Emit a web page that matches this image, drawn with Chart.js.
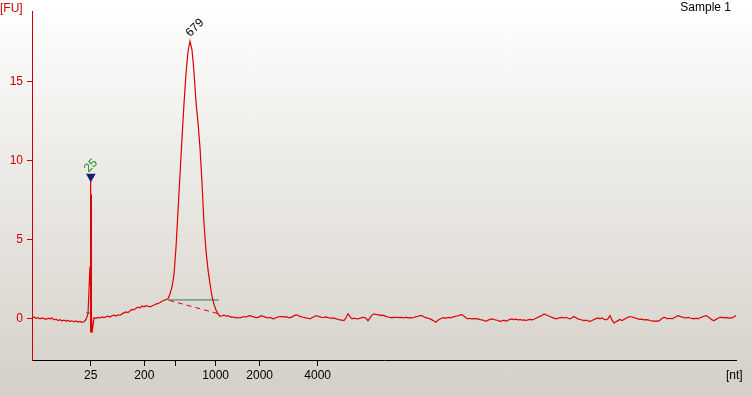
<!DOCTYPE html>
<html>
<head>
<meta charset="utf-8">
<script src="https://cdn.jsdelivr.net/npm/chart.js@4.4.1/dist/chart.umd.min.js"></script>
<style>
  html, body { margin: 0; padding: 0; }
  body { width: 752px; height: 396px; overflow: hidden;
         background: linear-gradient(to bottom, #ffffff 0%, #ebe9e5 45%, #d4d0c8 100%); }
  canvas { display: block; }
</style>
</head>
<body>
<canvas id="c" width="752" height="396" style="width:752px;height:396px"></canvas>
<script>
// ---- Data ----
// Migration time axis: samples every 0.2 s starting at 19.0 s
const sampleStart = 19.0;
const sampleStep = 0.2;
// Fluorescence [FU] per sample
const fuValues = [
  0.05, 0.10, 0.02, 0.06, -0.02, 0.04, 0.00, -0.05, 0.03, -0.02,
  0.04, -0.08, -0.03, -0.12, -0.07, -0.14, -0.10, -0.16, -0.12, -0.18,
  -0.14, -0.20, -0.15, -0.22, -0.18, -0.24, -0.20, -0.05,
  0.30, 3.30, -0.90,
  0.05, 0.02, 0.08, 0.04, 0.10, 0.06, 0.12, 0.15, 0.10, 0.18,
  0.22, 0.16, 0.24, 0.20, 0.30, 0.36, 0.42, 0.38, 0.50, 0.58,
  0.55, 0.66, 0.72, 0.68, 0.80, 0.75, 0.82, 0.78, 0.74, 0.80,
  0.86, 0.92, 0.96, 1.02, 1.10, 1.16, 1.20,
  1.25, 1.55, 2.0, 2.8, 4.5, 6.8, 9.1, 11.4, 13.6, 15.5,
  16.9, 17.55, 17.0, 15.6, 13.7, 12.4, 10.8, 8.6, 6.0, 4.3,
  3.1, 2.2, 1.4, 0.9, 0.55, 0.3, 0.15,
  0.18, 0.22, 0.15, 0.19, 0.12, 0.08, 0.10, 0.05, 0.07, 0.04,
  0.09, 0.13, 0.10, 0.16, 0.19, 0.14, 0.11, 0.06, 0.08, 0.14,
  0.19, 0.12, 0.08, 0.04, 0.07, 0.01, -0.02, 0.05, 0.10, 0.13,
  0.13, 0.09, 0.12, 0.08, 0.05, 0.11, 0.17, 0.25, 0.20, 0.14,
  0.10, 0.08, 0.04, 0.02, -0.02, 0.05, 0.12, 0.19, 0.15, 0.11,
  0.07, 0.08, 0.11, 0.06, 0.04, 0.02, 0.05, -0.02, -0.04, -0.08,
  -0.10, -0.13, 0.05, 0.30, 0.12, -0.02, 0.03, -0.01, -0.02, 0.02,
  0.06, 0.08, 0.02, -0.13, 0.05, 0.22, 0.30, 0.26, 0.25, 0.20,
  0.22, 0.19, 0.14, 0.10, 0.08, 0.05, 0.09, 0.07, 0.08, 0.06,
  0.08, 0.04, 0.09, 0.05, 0.06, 0.04, 0.07, 0.12, 0.15, 0.19,
  0.19, 0.10, 0.06, 0.02, -0.02, -0.08, -0.15, -0.23, -0.10, -0.02,
  0.04, 0.06, 0.02, 0.08, 0.05, 0.08, 0.12, 0.15, 0.18, 0.22,
  0.25, 0.14, 0.06, -0.02, 0.02, -0.03, 0.01, -0.02, -0.02, -0.06,
  -0.08, -0.12, -0.17, -0.10, -0.05, -0.02, -0.06, -0.09, -0.12, -0.17,
  -0.14, -0.10, -0.17, -0.11, -0.05, -0.02, -0.06, -0.04, -0.08, -0.06,
  -0.10, -0.08, -0.12, -0.08, -0.05, -0.08, -0.04, 0.02, 0.08, 0.14,
  0.20, 0.30, 0.24, 0.18, 0.13, 0.08, 0.03, -0.02, 0.02, 0.06,
  0.08, 0.04, 0.08, 0.02, -0.02, 0.05, 0.13, 0.06, -0.02, -0.06,
  -0.09, -0.13, -0.10, -0.15, -0.17, -0.12, -0.06, 0.00, 0.04, -0.02,
  0.04, -0.04, -0.08, -0.02, 0.19, -0.10, -0.27, -0.20, -0.13, -0.06,
  -0.13, -0.05, 0.02, 0.08, 0.13, 0.10, 0.06, 0.02, -0.02, -0.05,
  -0.04, -0.08, -0.06, -0.08, -0.12, -0.15, -0.17, -0.14, -0.17, -0.10,
  0.02, 0.08, 0.04, -0.02, 0.02, -0.02, 0.05, 0.12, 0.19, 0.14,
  0.10, 0.06, 0.04, 0.08, 0.04, 0.01, -0.02, 0.03, -0.02, 0.05,
  0.10, 0.15, 0.19, 0.12, 0.02, -0.08, -0.13, -0.05, 0.02, 0.08,
  0.08, 0.05, 0.07, 0.03, 0.05, 0.04, 0.12, 0.19
];
// Lower marker (25 nt) spike
const markerTime = 24.9;
const markerSpikeTop = 7.87;
const markerSpikeBottom = -0.86;
const markerFlagFU = 8.98;
// Peak integration baselines
const peakBaseTimes = [32.6, 37.7];
const peakBaseFU = [1.18, 1.18];
const dashedBaseTimes = [32.73, 37.63];
const dashedBaseFU = [1.15, 0.31];
const markerBaseTimes = [24.4, 25.0];
const markerBaseFU = [0.36, 0.36];
// Peak annotations
const peakLabelTexts = ['25', '679'];
const peakLabelTimes = [24.88, 34.8];
const peakLabelFU = [8.98, 17.55];
// Axes
const xTickTimes = [24.87, 30.23, 33.33, 37.37, 41.77, 47.57];
const xTickLabels = ['25', '200', '', '1000', '2000', '4000'];
const yTickValues = [0, 5, 10, 15];
const xMin = 19.0, xMax = 89.4, yMin = -2.62, yMax = 19.45;

// ---- Build chart ----
const signal = fuValues.map((v, i) => ({ x: +(sampleStart + i * sampleStep).toFixed(2), y: v }));
const pairs = (xs, ys) => xs.map((x, i) => ({ x, y: ys[i] }));

const RED = '#dd0000';
const FONT = '"Liberation Sans", Arial, sans-serif';

const annotations = {
  id: 'annotations',
  afterDatasetsDraw(chart) {
    const ctx = chart.ctx;
    const xs = chart.scales.x, ys = chart.scales.y;
    ctx.save();
    ctx.font = '12px ' + FONT;
    // rotated peak labels
    const offsets = [[0, -11], [5, -13.5]];
    const colors = ['#1a8a1a', '#000000'];
    peakLabelTexts.forEach((t, i) => {
      const px = xs.getPixelForValue(peakLabelTimes[i]) + offsets[i][0];
      const py = ys.getPixelForValue(peakLabelFU[i]) + offsets[i][1];
      ctx.save();
      ctx.translate(px, py);
      ctx.rotate(-Math.PI / 4);
      ctx.fillStyle = colors[i];
      ctx.textAlign = 'center';
      ctx.textBaseline = 'middle';
      ctx.fillText(t, 0, 0);
      ctx.restore();
    });
    // axis units and sample name
    ctx.textBaseline = 'middle';
    ctx.fillStyle = '#cc0000';
    ctx.textAlign = 'left';
    ctx.fillText('[FU]', 0, 9);
    ctx.fillStyle = '#000000';
    ctx.fillText('[nt]', 726, 375.5);
    ctx.textAlign = 'right';
    ctx.fillText('Sample 1', 731, 8);
    ctx.restore();
  }
};

new Chart(document.getElementById('c'), {
  type: 'scatter',
  data: {
    datasets: [
      { data: pairs([peakLabelTimes[0]], [markerFlagFU]), pointStyle: 'triangle', rotation: 180,
        pointRadius: 5.6, backgroundColor: '#1c1c6e', borderColor: '#1c1c6e', borderWidth: 0, showLine: false },
      { data: signal, showLine: true, borderColor: RED, borderWidth: 1.2, pointRadius: 0, tension: 0 },
      { data: pairs([markerTime, markerTime], [markerSpikeTop, markerSpikeBottom]), showLine: true,
        borderColor: RED, borderWidth: 2, pointRadius: 0 },
      { data: pairs([markerTime - 0.04, markerTime - 0.04], [markerFlagFU, markerSpikeTop]), showLine: true,
        borderColor: RED, borderWidth: 1, pointRadius: 0 },
      { data: pairs(peakBaseTimes, peakBaseFU), showLine: true, borderColor: '#2f7a5c', borderWidth: 1, pointRadius: 0 },
      { data: pairs(dashedBaseTimes, dashedBaseFU), showLine: true, borderColor: RED, borderWidth: 1,
        borderDash: [5, 4], pointRadius: 0 },
      { data: pairs(markerBaseTimes, markerBaseFU), showLine: true, borderColor: '#2f7a5c', borderWidth: 1, pointRadius: 0 }
    ]
  },
  options: {
    responsive: false,
    animation: false,
    events: [],
    layout: { padding: { top: 9, right: 16, left: 0, bottom: 0 } },
    plugins: { legend: { display: false }, tooltip: { enabled: false } },
    scales: {
      x: {
        type: 'linear', min: xMin, max: xMax,
        afterFit: (s) => { s.height = 36; },
        afterBuildTicks: (s) => { s.ticks = xTickTimes.map(v => ({ value: v })); },
        grid: { display: true, drawOnChartArea: false, drawTicks: true, tickLength: 6, color: '#000000' },
        border: { display: true, color: '#000000', width: 1 },
        ticks: { autoSkip: false, maxRotation: 0, padding: 2, color: '#000000',
                 font: { family: FONT, size: 12 },
                 callback: (v, i) => xTickLabels[i] }
      },
      y: {
        type: 'linear', min: yMin, max: yMax,
        afterFit: (s) => { s.width = 32; },
        afterBuildTicks: (s) => { s.ticks = yTickValues.map(v => ({ value: v })); },
        grid: { display: true, drawOnChartArea: false, drawTicks: true, tickLength: 5, color: '#cc0000' },
        border: { display: true, color: '#cc0000', width: 1 },
        ticks: { padding: 4, color: '#cc0000', font: { family: FONT, size: 12 },
                 callback: (v) => String(v) }
      }
    }
  },
  plugins: [annotations]
});
</script>
</body>
</html>
